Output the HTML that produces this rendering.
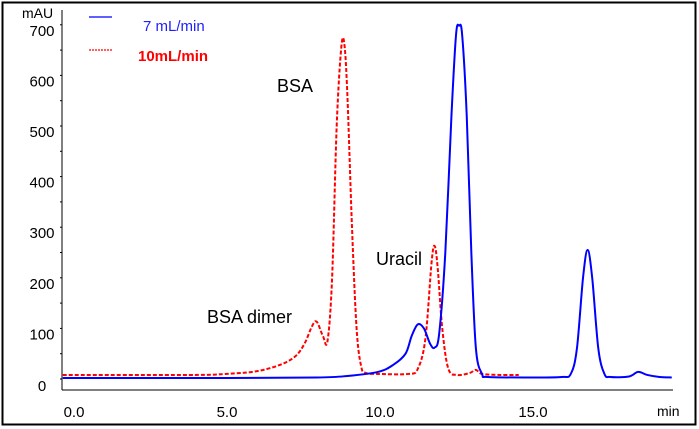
<!DOCTYPE html>
<html><head><meta charset="utf-8">
<style>
html,body{margin:0;padding:0;background:#fff;}
svg{display:block;font-family:"Liberation Sans",Arial,sans-serif;}
</style></head>
<body>
<svg id="chart" width="699" height="429" viewBox="0 0 699 429">
<rect x="2.5" y="2.5" width="693" height="422" fill="#fff" stroke="#000" stroke-width="2"/>
<g id="axes"></g>
<g id="series"></g>
<g>
<line x1="89" y1="17" x2="112" y2="17" stroke="#0000ff" stroke-width="1.2"/>
<text x="143" y="31" font-size="15" fill="#2020ff">7 mL/min</text>
<line x1="89" y1="50" x2="112" y2="50" stroke="#ff0000" stroke-width="1.2" stroke-dasharray="2,1"/>
<text x="138" y="61" font-size="15" font-weight="bold" fill="#ff0000">10mL/min</text>
</g>
<text x="277" y="92" font-size="18">BSA</text>
<text x="207" y="323" font-size="18">BSA dimer</text>
<text x="376" y="265" font-size="18">Uracil</text>
</svg>
<script>
const yTicks=[0,100,200,300,400,500,600,700];
const xTicks=[0,5,10,15];
const xTickLabels=["0.0","5.0","10.0","15.0"];
const blueT=[-0.3,5,8,9,10,10.5,10.9,11.1,11.3,11.5,11.7,11.85,12.0,12.2,12.4,12.55,12.65,12.75,12.9,13.05,13.2,13.4,13.6,15,16,16.3,16.5,16.7,16.85,17.0,17.2,17.4,17.6,18.2,18.5,18.8,19.2,19.6];
const blueV=[2,2,3,6,14,28,50,85,108,100,70,62,90,250,520,680,698,680,520,250,60,10,4,3,4,10,60,200,255,200,60,10,4,5,14,8,4,3];
const redT=[-0.3,4,5,6,6.8,7.3,7.6,7.85,8.0,8.2,8.35,8.5,8.65,8.8,8.9,9.0,9.15,9.3,9.45,9.6,10,11,11.3,11.55,11.75,11.85,11.95,12.1,12.3,12.6,13.0,13.2,13.4,14,14.6];
const redV=[8,8,10,15,28,45,70,105,113,85,75,200,500,655,662,560,300,100,25,12,10,10,20,80,230,263,220,100,20,8,12,18,10,8,8];
const X=t=>72+30.6*t;
const Y=v=>379-v*0.506;
const NS="http://www.w3.org/2000/svg";
const axes=document.getElementById('axes');
function mk(tag,attrs,parent){const e=document.createElementNS(NS,tag);for(const k in attrs)e.setAttribute(k,attrs[k]);parent.appendChild(e);return e;}
let yl=mk('line',{x1:62,y1:10,x2:62,y2:390,stroke:'#000','stroke-width':1},axes);


let xl=mk('line',{x1:62,y1:390,x2:673,y2:390,stroke:'#000','stroke-width':1},axes);


for(let v=0;v<=700;v+=50){
 let t=mk('line',{x1:60,y1:Y(v),x2:62,y2:Y(v),stroke:'#000'},axes);
 
 
}
yTicks.forEach(v=>{
 let t=mk('text',{x:42,y:Y(v)+(v===0?12:11),'font-size':15,'text-anchor':'middle'},axes);
 t.textContent=v;
 
 
});
let u=mk('text',{x:22,y:18,'font-size':14},axes);u.textContent='mAU';


xTicks.forEach((v,i)=>{
 let t=mk('text',{x:X(v)+2,y:417,'font-size':15,'text-anchor':'middle'},axes);
 t.textContent=xTickLabels[i];
 
 
});
let m=mk('text',{x:657,y:416,'font-size':14},axes);m.textContent='min';


function path(ts,vs){let p=[];for(let i=0;i<ts.length;i++)p.push([X(ts[i]),Y(vs[i])]);
 let d='M'+p[0][0]+','+p[0][1];
 for(let i=0;i<p.length-1;i++){const p0=p[Math.max(0,i-1)],p1=p[i],p2=p[i+1],p3=p[Math.min(p.length-1,i+2)];
  d+=' C'+(p1[0]+(p2[0]-p0[0])/6)+','+(p1[1]+(p2[1]-p0[1])/6)+' '+(p2[0]-(p3[0]-p1[0])/6)+','+(p2[1]-(p3[1]-p1[1])/6)+' '+p2[0]+','+p2[1];}
 return d;}
const s=document.getElementById('series');
let rp=mk('path',{d:path(redT,redV),fill:'none',stroke:'#ff0000','stroke-width':2,'stroke-dasharray':'4,2'},s);


let bp=mk('path',{d:path(blueT,blueV),fill:'none',stroke:'#0000ff','stroke-width':2},s);


</script>
</body></html>
